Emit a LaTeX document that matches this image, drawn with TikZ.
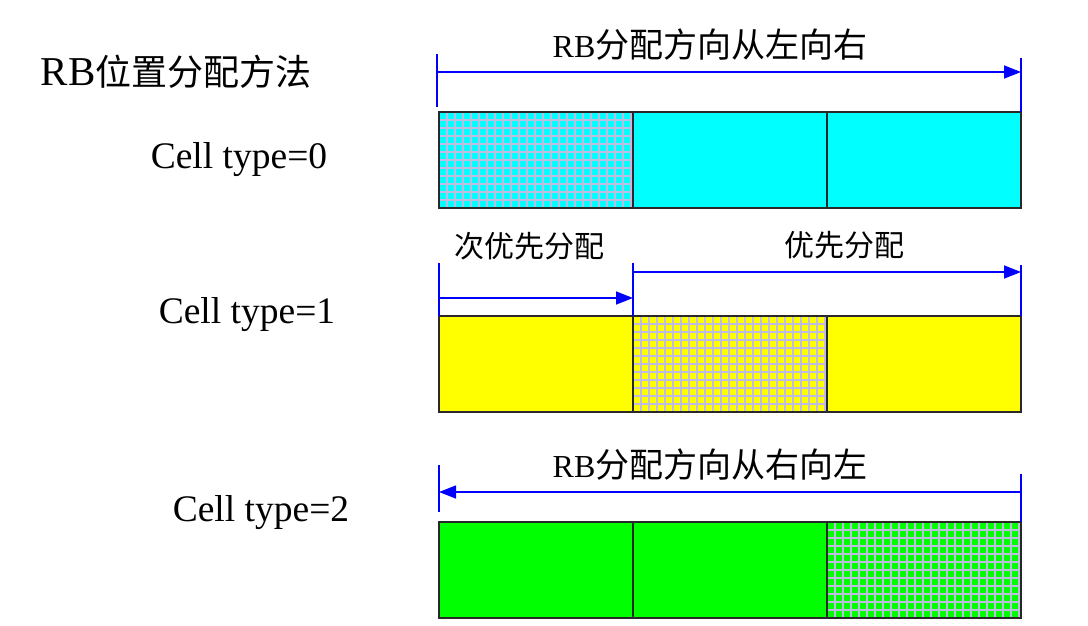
\documentclass[tikz,border=0pt]{standalone}
\usepackage{fontspec}
\setmainfont{Liberation Serif}
\newfontfamily\cjk{Noto Sans CJK SC}
\usetikzlibrary{arrows.meta}
\definecolor{gridc}{RGB}{192,188,224}
\definecolor{cyanc}{RGB}{0,255,255}
\definecolor{yelc}{RGB}{255,255,0}
\definecolor{grnc}{RGB}{0,255,0}
\definecolor{bord}{RGB}{40,40,40}
\tikzset{
  cellbox/.style={draw=bord, line width=1.5pt, inner sep=0pt, outer sep=0pt, anchor=north west, minimum width=194pt, minimum height=96pt},
  tick/.style={draw=blue, line width=1.5pt},
  arr/.style={draw=blue, line width=1.5pt, -{Triangle[length=17pt,width=13pt]}},
  lbl/.style={font=\fontsize{37.5}{40}\selectfont, inner sep=0pt},
  albl/.style={font=\fontsize{32}{38}\selectfont, inner sep=0pt},
  gridline/.style={draw=gridc, line width=1.1pt},
}
\newcommand{\gridfill}[1]{%
  \begin{scope}
    \clip (#1.north west) rectangle (#1.south east);
    \begin{scope}[shift={(#1.north west)}]
      \draw[gridline, step=8pt] (0,0) grid (194,96);
    \end{scope}
  \end{scope}
  \draw[draw=bord, line width=1.5pt] (#1.north west) rectangle (#1.south east);
}
\begin{document}
\begin{tikzpicture}[x=1pt,y=-1pt]
\useasboundingbox (0,0) rectangle (1088,625);

% labels
\node[font=\fontsize{41}{44}\selectfont, inner sep=0pt] (title) at (176,72) {RB{\fontsize{36}{40}\selectfont\cjk 位置分配方法}};
\node[lbl] (c0) at (239,160) {Cell type=0};
\node[lbl] (c1) at (247,315) {Cell type=1};
\node[lbl] (c2) at (261,513) {Cell type=2};

% row 0
\node[cellbox, fill=cyanc] (a0) at (439,112) {};
\node[cellbox, fill=cyanc] (a1) at (633,112) {};
\node[cellbox, fill=cyanc] (a2) at (827,112) {};
\gridfill{a0}

% row 1
\node[cellbox, fill=yelc] (b0) at (439,316) {};
\node[cellbox, fill=yelc] (b1) at (633,316) {};
\node[cellbox, fill=yelc] (b2) at (827,316) {};
\gridfill{b1}

% row 2
\node[cellbox, fill=grnc] (g0) at (439,522) {};
\node[cellbox, fill=grnc] (g1) at (633,522) {};
\node[cellbox, fill=grnc] (g2) at (827,522) {};
\gridfill{g2}

% top arrow
\coordinate (t0l) at (437,54);
\coordinate (t0lb) at (437,107);
\coordinate (t0r) at (1021,58);
\coordinate (t0rb) at (1021,112);
\coordinate (t0a) at (437,72);
\coordinate (t0b) at (1021,72);
\draw[tick] (t0l) -- (t0lb);
\draw[tick] (t0r) -- (t0rb);
\draw[arr] (t0a) -- (t0b);
\node[albl] (l0) at (710,45) {RB{\fontsize{34}{38}\selectfont\cjk 分配方向从左向右}};

% middle arrows
\coordinate (t1l) at (439,263);
\coordinate (t1lb) at (439,316);
\coordinate (t1m) at (633,263);
\coordinate (t1mb) at (633,316);
\coordinate (t1r) at (1021,265);
\coordinate (t1rb) at (1021,316);
\coordinate (t1a) at (439,298);
\coordinate (t1b) at (633,298);
\coordinate (t1c) at (633,272);
\coordinate (t1d) at (1021,272);
\draw[tick] (t1l) -- (t1lb);
\draw[tick] (t1m) -- (t1mb);
\draw[tick] (t1r) -- (t1rb);
\draw[arr] (t1a) -- (t1b);
\draw[arr] (t1c) -- (t1d);
\node[albl, font=\fontsize{30}{34}\selectfont\cjk] (l1) at (529,246) {次优先分配};
\node[albl, font=\fontsize{30}{34}\selectfont\cjk] (l2) at (844,245) {优先分配};

% bottom arrow
\coordinate (t2l) at (439,465);
\coordinate (t2lb) at (439,512);
\coordinate (t2r) at (1021,474);
\coordinate (t2rb) at (1021,522);
\coordinate (t2a) at (1021,492);
\coordinate (t2b) at (439,492);
\draw[tick] (t2l) -- (t2lb);
\draw[tick] (t2r) -- (t2rb);
\draw[arr] (t2a) -- (t2b);
\node[albl] (l3) at (710,465) {RB{\fontsize{34}{38}\selectfont\cjk 分配方向从右向左}};
\end{tikzpicture}
\end{document}
